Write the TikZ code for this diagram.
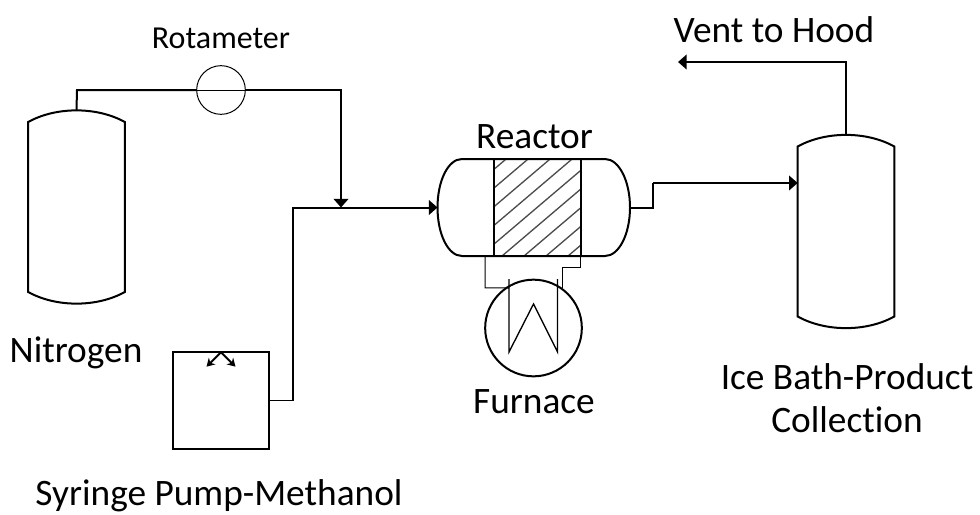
\documentclass[tikz,border=0pt]{standalone}
\usepackage{fontspec}
\setmainfont[Ligatures=NoCommon]{Carlito}
\usepackage{xcolor}
\usetikzlibrary{positioning, arrows.meta, calc}

\tikzset{
  pipe/.style={line width=1.5pt},
  thinpipe/.style={line width=0.75pt},
  flow/.style={pipe, -{Triangle[length=6.5pt,width=11pt]}},
  tank/.style={minimum width=72.5pt, minimum height=127.5pt, inner sep=0pt, outer sep=0pt},
  label/.style={font=\fontsize{28}{32}\selectfont, inner sep=0pt, align=center},
}

\begin{document}
\begin{tikzpicture}[x=0.75pt, y=-0.75pt]
\useasboundingbox (0,0) rectangle (980,514);

\node(nitrogen)[tank] at (76.5,207){};
\node(icebath)[tank] at (846,231.5){};
\node(rotameter)[draw, thinpipe, circle, minimum size=36.5pt, inner sep=0pt, outer sep=0pt] at (221,90){};
\node(furnace)[draw, pipe, circle, minimum size=72.5pt, inner sep=0pt, outer sep=0pt] at (533.5,328){};
\node(pump)[draw, pipe, minimum size=72.5pt, inner sep=0pt, outer sep=0pt] at (221,400.5){};

% tanks
\foreach \t in {nitrogen, icebath}{
  \draw[pipe] (\t.north west) .. controls ($(\t.north west)+(28,-15.5)$) and ($(\t.north east)+(-28,-15.5)$) .. (\t.north east)
    -- (\t.south east) .. controls ($(\t.south east)+(-28,15.5)$) and ($(\t.south west)+(28,15.5)$) .. (\t.south west) -- cycle;
}

% reactor shell
\coordinate(inlet) at (437.5,207.5);
\coordinate(outlet) at (630,207.5);
\draw[pipe] (462,159) -- (605,159) .. controls (619,159) and (630,181) .. (outlet)
  .. controls (630,234) and (619,256) .. (605,256) -- (462,256)
  .. controls (448,256) and (437.5,234) .. (inlet)
  .. controls (437.5,181) and (448,159) .. (462,159) -- cycle;

% hatching
\begin{scope}
\clip (494,159) rectangle (581,256);
\foreach \i in {-7,...,4}{
  \draw[gray!60!black, line width=1pt] (442+22*\i,307) -- ++(220,-187);
}
\end{scope}
\node(bed)[draw, pipe, minimum width=65pt, minimum height=72.5pt, inner sep=0pt, outer sep=0pt] at (537.5,207.5){};

% heater
\coordinate(h1) at (509,279);
\coordinate(h2) at (509,352);
\coordinate(h3) at (533.5,304);
\coordinate(h4) at (557.5,352);
\coordinate(h5) at (557.5,279);
\draw[line width=1pt] (h1) -- (h2) -- (h3) -- (h4) -- (h5);
\draw[thinpipe] (bed.south west) -- ++(-9,0) -- ++(0,32) -- (509,288);
\draw[thinpipe] (bed.south east) -- ++(0,12) -- ++(-18,0) -- ++(0,20);

% lines
\coordinate(junction) at (341,207.5);
\coordinate(pumpline) at (293,400.5);
\coordinate(ventend) at (678,62);
\draw[pipe] (nitrogen.north |- 0,110) -- (77,90) -- (rotameter.west);
\draw[thinpipe] (rotameter.west) -- (rotameter.east);
\draw[flow] (rotameter.east) -- (341,90) -- (junction);
\draw[thinpipe] (pump.east) -- (pumpline);
\draw[pipe] (pumpline) -- (293,207.5) -- (junction);
\draw[flow] (junction) -- (inlet);
\draw[pipe] (outlet) -- (653,207.5) -- (653,183);
\draw[flow] (653,183) -- (icebath.west |- 0,183);
\draw[flow] (846,134.5) -- (846,62) -- (ventend);

% pump arrows
\draw[pipe, -{Stealth[length=6pt,width=7pt]}] (pump.north) -- ++(-14.5,14.5);
\draw[pipe, -{Stealth[length=6pt,width=7pt]}] (pump.north) -- ++(14.5,14.5);

% labels
\node(lrot)[label, font=\fontsize{24}{28}\selectfont] at (221,38){Rotameter};
\node(lvent)[label] at (774,29.5){Vent to Hood};
\node(lreact)[label] at (534.5,137){Reactor};
\node(lnit)[label] at (76,352.5){Nitrogen};
\node(lfurn)[label] at (534,401.5){Furnace};
\node(lice)[label] at (847,398.5){Ice Bath-Product\\Collection};
\node(lsyr)[label] at (219,495.5){Syringe Pump-Methanol};
\end{tikzpicture}
\end{document}
